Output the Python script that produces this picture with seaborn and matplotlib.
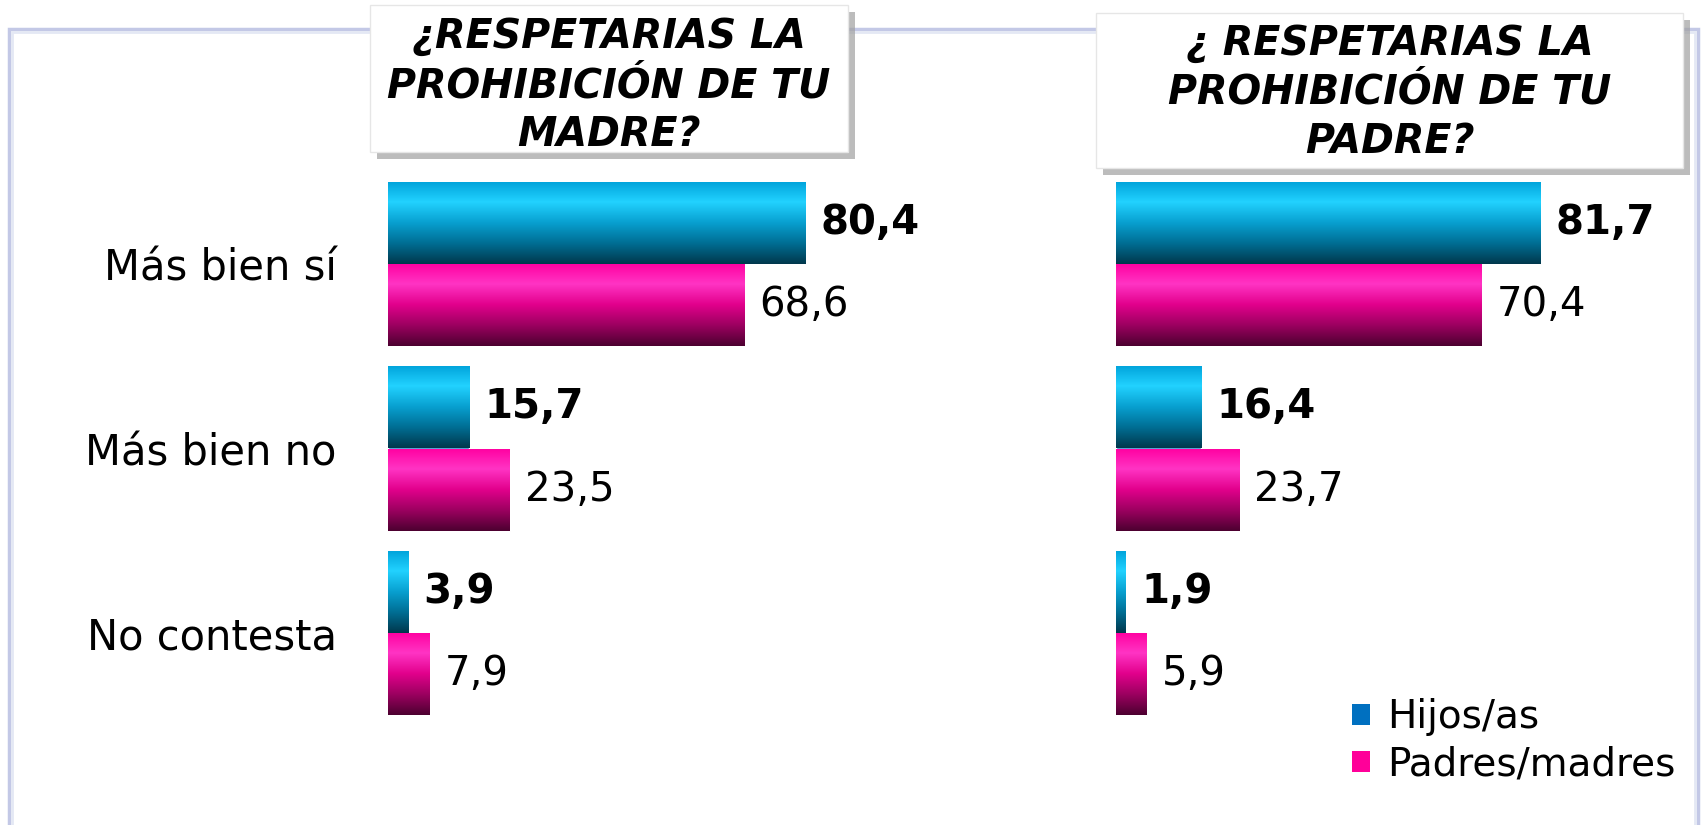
import numpy as np
import pandas as pd
import matplotlib
matplotlib.use("Agg")
import matplotlib.pyplot as plt
from matplotlib.patches import Rectangle, Patch
from matplotlib.colors import LinearSegmentedColormap
import seaborn as sns

# data
categorias = ["Más bien sí", "Más bien no", "No contesta"]
grupos = ["Hijos/as", "Padres/madres"]
madre_hijos = [80.4, 15.7, 3.9]
madre_padres = [68.6, 23.5, 7.9]
padre_hijos = [81.7, 16.4, 1.9]
padre_padres = [70.4, 23.7, 5.9]
titulo_madre = "¿RESPETARIAS LA\nPROHIBICIÓN DE TU\nMADRE?"
titulo_padre = "¿ RESPETARIAS LA\nPROHIBICIÓN DE TU\nPADRE?"

colores = {"Hijos/as": "#0070c0", "Padres/madres": "#ff0099"}
grad_azul = ["#00a2da", "#22d2ff", "#08a0d0", "#006e94", "#00384c"]
grad_rosa = ["#ff00a0", "#ff34c4", "#e2008c", "#9c0060", "#4c0030"]

sns.set_theme(style="white")
plt.rcParams["font.family"] = ["DejaVu Sans"]
plt.rcParams["text.color"] = "black"
plt.rcParams["ytick.color"] = "black"

W, H = 1705, 825
fig = plt.figure(figsize=(W / 100, H / 100), dpi=100)
fig.patch.set_facecolor("white")


def fx(px):
    return px / W


def fy(py):
    return 1 - py / H


def make_df(hijos, padres):
    return pd.DataFrame({
        "cat": categorias * 2,
        "grupo": [grupos[0]] * 3 + [grupos[1]] * 3,
        "valor": hijos + padres,
    })


# outer frame
fig.patches.append(Rectangle((fx(9), fy(840)), fx(1698) - fx(9), fy(29) - fy(840),
                             transform=fig.transFigure, fill=False,
                             edgecolor="#c3c8e6", lw=2.5, zorder=0))
fig.patches.append(Rectangle((fx(12), fy(840)), fx(1695) - fx(12), fy(32) - fy(840),
                             transform=fig.transFigure, fill=False,
                             edgecolor="#e4e8f4", lw=2, zorder=0))


def draw_panel(left_px, hijos, padres, show_labels):
    ax = fig.add_axes([fx(left_px), fy(725), 519 / W, 553 / H])
    ax.patch.set_alpha(0)
    df = make_df(hijos, padres)
    sns.barplot(data=df, y="cat", x="valor", hue="grupo", order=categorias,
                hue_order=grupos, palette=colores, width=0.89, legend=False,
                orient="h", ax=ax, saturation=1)
    # gradient fill, clipped to each bar
    for cont, grad in zip(ax.containers, [grad_azul, grad_rosa]):
        cmap = LinearSegmentedColormap.from_list("g", list(zip([0, 0.25, 0.5, 0.75, 1], grad)))
        for bar in cont:
            x0, y0 = bar.get_x(), bar.get_y()
            w, h = bar.get_width(), bar.get_height()
            im = ax.imshow(np.linspace(0, 1, 256).reshape(-1, 1), cmap=cmap,
                           extent=(x0, x0 + w, y0 + h, y0), origin="upper",
                           aspect="auto", zorder=bar.get_zorder() + 0.1)
            im.set_clip_path(bar)
    ax.set_xlim(0, 100)
    ax.set_ylim(2.5, -0.5)
    for i, cont in enumerate(ax.containers):
        vals = hijos if i == 0 else padres
        ax.bar_label(cont, labels=[f"{v:.1f}".replace(".", ",") for v in vals],
                     padding=11, fontsize=29, color="black",
                     fontweight="bold" if i == 0 else "normal")
    for s in ax.spines.values():
        s.set_visible(False)
    ax.set_xticks([])
    ax.set_xlabel("")
    ax.set_ylabel("")
    ax.tick_params(axis="y", length=0, pad=37, labelsize=30, labelcolor="black")
    if not show_labels:
        ax.set_yticklabels([])
    return ax


draw_panel(388, madre_hijos, madre_padres, True)
draw_panel(1116, padre_hijos, padre_padres, False)


def title_box(x0, y0, x1, y1, text, cy):
    fig.patches.append(Rectangle((fx(x0 + 7), fy(y1 + 7)), fx(x1) - fx(x0), fy(y0) - fy(y1),
                                 transform=fig.transFigure, facecolor="#a0a0a0",
                                 edgecolor="none", alpha=0.7, zorder=5))
    fig.patches.append(Rectangle((fx(x0), fy(y1)), fx(x1) - fx(x0), fy(y0) - fy(y1),
                                 transform=fig.transFigure, facecolor="white",
                                 edgecolor="#e6e6e6", lw=1, zorder=6))
    fig.text(fx((x0 + x1) / 2), fy(cy), text, ha="center", va="center",
             fontsize=28.5, fontweight="bold", fontstyle="italic", color="black",
             linespacing=1.28, zorder=7)


title_box(370, 5, 848, 152, titulo_madre, 86)
title_box(1096, 13, 1683, 168, titulo_padre, 93)

handles = [Patch(facecolor=colores[g], edgecolor="none") for g in grupos]
fig.legend(handles, grupos, loc="upper left", bbox_to_anchor=(fx(1352), fy(698)),
           frameon=False, fontsize=28, handlelength=0.45, handleheight=0.45,
           handletextpad=0.45, labelspacing=0.25, borderpad=0, borderaxespad=0,
           labelcolor="black")

fig.savefig("out.png", dpi=100)
